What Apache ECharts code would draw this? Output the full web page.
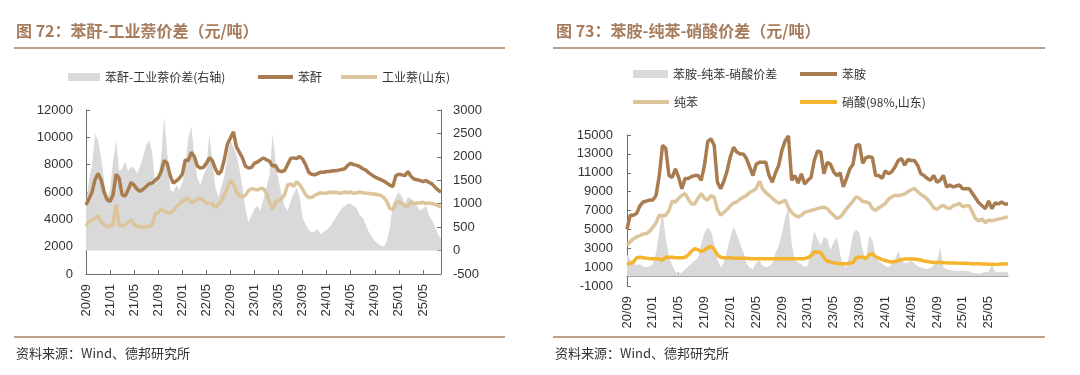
<!DOCTYPE html>
<html>
<head>
<meta charset="utf-8">
<script src="https://cdn.jsdelivr.net/npm/echarts@6/dist/echarts.min.js"></script>
<style>
html,body{margin:0;padding:0;background:#fff;}
#c{width:1080px;height:375px;}
</style>
</head>
<body>
<div id="c"></div>
<script>
// Month tick labels (20/09 .. 25/08), data sampled twice a month
const months = ['20/09','20/10','20/11','20/12',
  '21/01','21/02','21/03','21/04','21/05','21/06','21/07','21/08','21/09','21/10','21/11','21/12',
  '22/01','22/02','22/03','22/04','22/05','22/06','22/07','22/08','22/09','22/10','22/11','22/12',
  '23/01','23/02','23/03','23/04','23/05','23/06','23/07','23/08','23/09','23/10','23/11','23/12',
  '24/01','24/02','24/03','24/04','24/05','24/06','24/07','24/08','24/09','24/10','24/11','24/12',
  '25/01','25/02','25/03','25/04','25/05','25/06','25/07','25/08'];
const categories = [];
months.forEach(m => { categories.push(m + '-1'); categories.push(m + '-2'); });
categories.length = 119;

// Chart 72: 苯酐 / 工业萘 / 价差
const phthalic = [
  5050,5500,6000,6900,7350,6900,6000,5450,5300,5800,
  7300,7000,5800,5700,6150,6700,6500,6200,6050,6200,
  6400,6600,6650,6850,7050,7500,8300,8100,7200,6650,
  6800,7000,7300,8350,8300,8900,8600,7900,7750,7800,
  8100,8500,8300,7700,7300,7550,8400,9500,9950,10400,
  9300,8900,8500,7900,7750,7800,8100,8200,8350,8500,
  8350,8250,7900,7950,7550,7500,7550,8000,8450,8500,
  8450,8600,8400,8000,7450,7300,7250,7350,7450,7450,
  7500,7500,7550,7550,7600,7650,7700,7950,8100,8000,
  7950,7850,7700,7600,7400,7250,7100,7000,6900,6800,
  6650,6500,6400,7200,7300,7250,7200,7500,7150,6950,
  6900,6850,6750,6850,6700,6600,6350,6150,6000];
const naphthalene = [
  3500,3850,3950,4050,4300,3800,3600,3450,3550,3600,
  5100,3600,3500,3600,3800,3950,3600,3500,3450,3450,
  3450,3500,3550,4400,4500,4750,4600,4500,4450,4650,
  4900,5100,5300,5450,5550,5200,5350,5450,5550,5400,
  5200,5150,5150,4850,5100,5350,5800,6300,6850,6600,
  6000,5750,5650,5750,6100,6250,6200,6150,6250,6250,
  5900,5300,4750,5250,5400,5500,5800,6500,6600,6400,
  6750,6550,6200,5800,5600,5600,5750,5850,5950,5900,
  5900,6000,5950,6000,5900,5950,6000,5950,6000,5900,
  5950,6000,5950,5900,5900,5850,5850,5800,5750,5600,
  5300,4800,4700,5200,5300,5150,5000,4950,5300,5150,
  5200,5200,5250,5150,5200,5150,5100,5000,4900];
const spread72 = [
  1000,1500,1800,2500,2350,2000,1500,1100,1300,1900,
  2350,1700,1750,1900,1700,1800,1750,1650,1800,2000,
  2250,2350,2100,1400,1550,2000,2850,2100,1300,1250,
  1400,1300,1450,1800,2400,2650,2000,1550,1400,1600,
  1750,2500,1900,1350,1150,1350,1600,2000,2350,2200,
  2050,1750,1350,900,600,750,900,950,850,1100,
  1350,1600,2500,1900,1500,1200,950,850,1050,1200,
  1350,1150,700,550,450,380,420,450,350,400,
  450,500,600,700,800,900,950,1000,1000,950,
  900,750,700,550,400,300,200,150,100,80,
  200,500,1000,1150,1250,1150,1000,1150,1100,1050,
  950,850,900,950,750,650,500,350,250];

// Chart 73: 苯胺 / 纯苯 / 硝酸 / 价差
const aniline = [
  5000,6500,6500,6700,7500,7900,8000,8100,8100,8600,
  10700,13900,13600,10700,10500,11400,10500,9300,10400,10400,
  10600,10700,10700,10200,11800,14300,14600,13900,10000,9300,
  10100,11200,12700,13700,13200,13000,13000,12500,11600,10700,
  11900,12100,12100,12100,10700,10000,11000,11800,13400,14400,
  14900,10200,10700,9900,10900,9800,10200,10500,12300,13300,
  13200,10900,12100,11900,11100,10700,11000,9500,10400,11400,
  11900,13900,14000,12000,12600,12700,12600,10700,10700,10400,
  11200,10900,11100,11600,12300,12500,11800,12400,12300,12300,
  11800,10900,10700,10400,10200,10700,10000,10200,10700,9500,
  9700,9500,9600,9700,9300,9300,9300,8800,8300,7800,
  7500,7200,8000,7200,7800,7700,7900,7700,7700];
const benzene = [
  3300,3700,4000,4200,4350,4500,4550,4800,5200,5700,
  6500,6400,6500,7000,8000,7900,8300,8600,8800,8200,
  7700,7700,8300,8800,8300,8100,8600,8400,7100,6500,
  6800,7100,7500,7800,7900,8200,8400,8600,8900,9100,
  9300,10100,9300,8900,8600,8300,8000,7800,7900,8100,
  7300,6800,6500,6300,6500,6800,6900,7000,7100,7200,
  7300,7350,7200,6800,6500,6150,6300,6700,7200,7600,
  8000,8450,8300,7950,7900,7800,7200,7000,7300,7500,
  7750,8200,8450,8600,8600,8650,8750,9000,9200,9350,
  9000,8700,8500,8200,7800,7300,7100,7400,7550,7300,
  7200,7500,7600,7750,7400,7500,7500,6800,6100,5900,
  6100,5700,6000,5900,6000,6100,6150,6250,6300];
const nitricAcid = [
  1300,1400,1550,2000,2050,2000,1950,1900,1900,1900,
  1850,1750,2050,2050,2050,2000,2000,2000,2050,2300,
  2700,2950,2850,2650,2800,3050,3200,2900,2300,2050,
  2000,2000,2000,1950,1950,1950,1950,1950,1900,1900,
  1900,1900,1900,1900,1900,1900,1900,1900,1900,1900,
  1900,1900,1900,1900,1900,1900,2000,2200,2600,2600,
  2550,2000,1650,1550,1450,1400,1350,1350,1350,1400,
  1500,2000,2050,2050,1900,2300,2400,2100,1950,1800,
  1700,1600,1550,1600,1700,1800,1850,1850,1850,1850,
  1800,1750,1650,1600,1550,1500,1500,1500,1480,1450,
  1450,1450,1430,1420,1400,1400,1380,1360,1350,1350,
  1330,1320,1300,1300,1290,1300,1320,1340,1360];
const spread73 = [
  2300,1800,1500,1200,1300,1100,1000,1100,1300,2500,
  4800,7000,4000,2200,1200,500,300,400,800,1100,
  1400,1700,2000,3500,4600,5200,4800,3500,1800,1000,
  1500,2800,4200,5300,4500,3500,2600,1400,900,800,
  1500,1700,1200,1000,1100,1400,2500,3300,4500,6300,
  7300,3500,1700,1500,1300,1000,1200,3000,4800,4000,
  3300,4200,4000,2800,3600,4200,2400,1200,1000,2600,
  4500,5000,4600,2800,1700,4300,3900,2200,1600,1400,
  1100,1000,1300,1800,2700,1800,1400,1500,1700,1400,
  1100,950,850,800,900,1200,1700,3100,1000,800,
  700,650,650,600,650,600,550,400,350,300,
  400,500,450,1300,500,450,500,450,500];

const C_BROWN = '#a97c50', C_TAN = '#dcc49b', C_GRAY = '#d9d9d9', C_ORANGE = '#f5b42e';
const C_TITLE = '#a67c5c', C_RULE = '#bf9f86', C_AXIS = '#6e6e6e', C_TEXT = '#333';
const NUM_FONT = '"Liberation Sans", Arial, sans-serif';
const CJK_FONT = '"Noto Sans CJK SC", sans-serif';

function xAxisCfg(gridIndex, onZero) {
  return {
    type: 'category', gridIndex, data: categories, boundaryGap: false,
    axisLine: { show: true, onZero: onZero, lineStyle: { color: C_AXIS, width: 1 } },
    axisTick: { show: true, inside: true, length: 4, interval: 7, lineStyle: { color: C_AXIS } },
    axisLabel: { interval: 7, rotate: 90, margin: 10, fontSize: 13, color: C_TEXT, fontFamily: NUM_FONT,
      formatter: v => v.slice(0, 5) },
    splitLine: { show: false }
  };
}
function yAxisCfg(gridIndex, min, max, interval, position, margin) {
  return {
    type: 'value', gridIndex, min, max, interval, position,
    axisLine: { show: true, lineStyle: { color: C_AXIS, width: 1 } },
    axisTick: { show: true, inside: true, length: 4, lineStyle: { color: C_AXIS } },
    axisLabel: { fontSize: 13, color: C_TEXT, fontFamily: NUM_FONT, margin,
      formatter: v => String(v) },
    splitLine: { show: false }
  };
}
function legendItem(name, left, top, w, h) {
  return {
    data: [{ name, icon: 'rect' }], left, top, itemWidth: w, itemHeight: h, padding: 0,
    selectedMode: false, textStyle: { fontSize: 12, color: C_TEXT, fontFamily: CJK_FONT }
  };
}
function lineSeries(name, data, color, xi, yi, z) {
  return { name, type: 'line', data, xAxisIndex: xi, yAxisIndex: yi, symbol: 'none', z,
    lineStyle: { color, width: 3.5 }, itemStyle: { color } };
}
function areaSeries(name, data, xi, yi) {
  return { name, type: 'line', data, xAxisIndex: xi, yAxisIndex: yi, symbol: 'none', z: 1,
    lineStyle: { width: 0, color: C_GRAY }, itemStyle: { color: C_GRAY },
    areaStyle: { color: C_GRAY, opacity: 1 } };
}

const chart = echarts.init(document.getElementById('c'), null, { renderer: 'canvas' });
chart.setOption({
  animation: false,
  backgroundColor: '#fff',
  title: [
    { text: '图 72：苯酐-工业萘价差（元/吨）', left: 16, top: 23, padding: 0,
      textStyle: { fontSize: 16, fontWeight: 'bold', color: C_TITLE, fontFamily: CJK_FONT } },
    { text: '图 73：苯胺-纯苯-硝酸价差（元/吨）', left: 556, top: 23, padding: 0,
      textStyle: { fontSize: 16, fontWeight: 'bold', color: C_TITLE, fontFamily: CJK_FONT } },
    { text: '资料来源：Wind、德邦研究所', left: 16, top: 347, padding: 0,
      textStyle: { fontSize: 13, fontWeight: 'normal', color: C_TEXT, fontFamily: CJK_FONT } },
    { text: '资料来源：Wind、德邦研究所', left: 555, top: 347, padding: 0,
      textStyle: { fontSize: 13, fontWeight: 'normal', color: C_TEXT, fontFamily: CJK_FONT } }
  ],
  graphic: [
    { type: 'line', shape: { x1: 14, y1: 48, x2: 505, y2: 48 }, style: { stroke: C_RULE, lineWidth: 2 } },
    { type: 'line', shape: { x1: 553, y1: 48, x2: 1045, y2: 48 }, style: { stroke: C_RULE, lineWidth: 2 } },
    { type: 'line', shape: { x1: 14, y1: 337, x2: 505, y2: 337 }, style: { stroke: C_RULE, lineWidth: 2 } },
    { type: 'line', shape: { x1: 553, y1: 337, x2: 1045, y2: 337 }, style: { stroke: C_RULE, lineWidth: 2 } }
  ],
  legend: [
    legendItem('苯酐-工业萘价差(右轴)', 68, 71, 32, 8),
    legendItem('苯酐', 258, 71, 35, 4),
    legendItem('工业萘(山东)', 341, 71, 36, 4),
    legendItem('苯胺-纯苯-硝酸价差', 633, 68, 35, 8),
    legendItem('苯胺', 800, 68, 37, 4),
    legendItem('纯苯', 633, 96, 36, 4),
    legendItem('硝酸(98%,山东)', 800, 96, 37, 4)
  ],
  grid: [
    { left: 86, top: 110, width: 355, height: 164 },
    { left: 627, top: 135, width: 381, height: 151 }
  ],
  xAxis: [xAxisCfg(0, false), xAxisCfg(1, true)],
  yAxis: [
    yAxisCfg(0, 0, 12000, 2000, 'left', 13),
    yAxisCfg(0, -500, 3000, 500, 'right', 12),
    yAxisCfg(1, -1000, 15000, 2000, 'left', 14)
  ],
  series: [
    areaSeries('苯酐-工业萘价差(右轴)', spread72, 0, 1),
    lineSeries('苯酐', phthalic, C_BROWN, 0, 0, 3),
    lineSeries('工业萘(山东)', naphthalene, C_TAN, 0, 0, 2),
    areaSeries('苯胺-纯苯-硝酸价差', spread73, 1, 2),
    lineSeries('苯胺', aniline, C_BROWN, 1, 2, 3),
    lineSeries('纯苯', benzene, C_TAN, 1, 2, 2),
    lineSeries('硝酸(98%,山东)', nitricAcid, C_ORANGE, 1, 2, 4)
  ]
});
</script>
</body>
</html>
